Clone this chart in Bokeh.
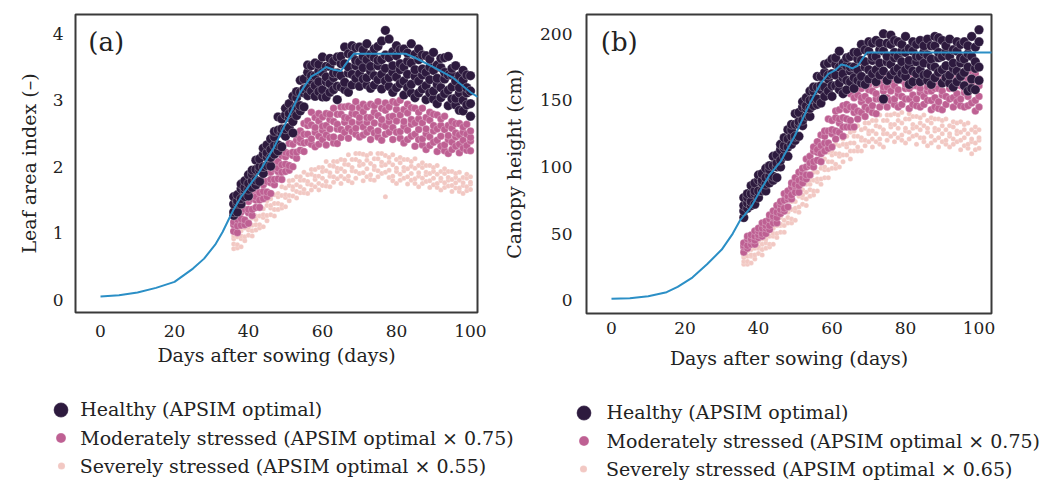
from bokeh.plotting import figure
from bokeh.models import Range1d, FixedTicker, Legend, LegendItem, Label, ColumnDataSource
from bokeh.layouts import row, column
from bokeh.embed import file_html
from bokeh.resources import INLINE

# ---------------- data ----------------
obs_days = [36, 37, 38, 39, 40, 41, 42, 43, 44, 45, 46, 47, 48, 49, 50, 51, 52, 53, 54, 55,
            56, 57, 58, 59, 60, 61, 62, 63, 64, 65, 66, 67, 68, 69, 70, 71, 72, 73, 74, 75,
            76, 77, 78, 79, 80, 81, 82, 83, 84, 85, 86, 87, 88, 89, 90, 91, 92, 93, 94, 95,
            96, 97, 98, 99, 100]

# (a) leaf area index (-), several plots per day
lai_healthy = [
    [1.27, 1.32, 1.44, 1.55], [1.32, 1.45, 1.49, 1.58], [1.44, 1.52, 1.67, 1.74], [1.55, 1.65, 1.69, 1.79],
    [1.56, 1.66, 1.75, 1.88], [1.69, 1.79, 1.89, 1.95], [1.73, 1.80, 1.96, 2.10], [1.78, 1.95, 2.00, 2.12],
    [1.90, 2.00, 2.19, 2.28], [2.02, 2.15, 2.21, 2.33], [2.01, 2.14, 2.26, 2.42], [2.19, 2.32, 2.45, 2.53],
    [2.24, 2.33, 2.55, 2.75], [2.30, 2.51, 2.57, 2.72], [2.46, 2.57, 2.78, 2.88], [2.59, 2.74, 2.80, 2.95],
    [2.51, 2.68, 2.85, 3.06], [2.77, 2.91, 3.04, 3.13], [2.84, 2.92, 3.12, 3.30], [2.90, 3.11, 3.17, 3.32],
    [3.07, 3.19, 3.42, 3.53], [3.14, 3.30, 3.37, 3.52], [3.06, 3.22, 3.37, 3.56], [3.13, 3.28, 3.44, 3.54],
    [3.05, 3.16, 3.42, 3.65], [3.05, 3.28, 3.35, 3.51], [3.12, 3.25, 3.51, 3.63], [3.16, 3.34, 3.41, 3.59],
    [3.01, 3.21, 3.41, 3.65], [3.20, 3.37, 3.55, 3.66], [3.16, 3.27, 3.55, 3.80], [3.12, 3.41, 3.50, 3.70],
    [3.23, 3.39, 3.68, 3.82], [3.33, 3.52, 3.60, 3.79], [3.21, 3.40, 3.58, 3.80], [3.32, 3.49, 3.66, 3.76],
    [3.23, 3.34, 3.61, 3.85], [3.18, 3.44, 3.51, 3.69], [3.23, 3.37, 3.64, 3.77], [3.31, 3.52, 3.60, 3.81],
    [3.17, 3.39, 3.61, 3.89], [3.29, 3.48, 3.68, 4.05], [3.21, 3.34, 3.64, 3.92], [3.12, 3.42, 3.52, 3.73],
    [3.19, 3.35, 3.67, 3.82], [3.25, 3.46, 3.55, 3.76], [3.08, 3.29, 3.50, 3.77], [3.19, 3.39, 3.59, 3.71],
    [3.11, 3.24, 3.56, 3.85], [3.04, 3.36, 3.46, 3.69], [3.11, 3.29, 3.61, 3.77], [3.17, 3.38, 3.47, 3.68],
    [3.01, 3.22, 3.42, 3.67], [3.11, 3.31, 3.50, 3.62], [3.02, 3.14, 3.45, 3.72], [2.95, 3.24, 3.33, 3.53],
    [3.04, 3.19, 3.49, 3.63], [3.10, 3.32, 3.42, 3.64], [2.92, 3.15, 3.38, 3.66], [3.02, 3.20, 3.38, 3.48],
    [2.93, 3.03, 3.29, 3.52], [2.85, 3.11, 3.19, 3.37], [2.84, 3.00, 3.30, 3.45], [2.93, 3.11, 3.19, 3.38],
    [2.76, 2.95, 3.14, 3.37],
]
lai_moderate = [
    [1.03, 1.13, 1.17, 1.27], [1.01, 1.11, 1.21, 1.33], [1.12, 1.22, 1.32, 1.39], [1.13, 1.20, 1.36, 1.50],
    [1.15, 1.31, 1.36, 1.48], [1.27, 1.36, 1.52, 1.60], [1.39, 1.50, 1.55, 1.66], [1.39, 1.50, 1.61, 1.75],
    [1.52, 1.63, 1.73, 1.79], [1.55, 1.62, 1.78, 1.92], [1.60, 1.76, 1.81, 1.92], [1.73, 1.81, 1.97, 2.05],
    [1.82, 1.93, 1.98, 2.08], [1.81, 1.92, 2.03, 2.17], [1.93, 2.04, 2.15, 2.22], [1.95, 2.02, 2.20, 2.35],
    [2.00, 2.17, 2.22, 2.34], [2.13, 2.22, 2.40, 2.48], [2.25, 2.37, 2.42, 2.54], [2.23, 2.36, 2.49, 2.65],
    [2.37, 2.49, 2.62, 2.69], [2.34, 2.42, 2.63, 2.82], [2.30, 2.52, 2.59, 2.74], [2.34, 2.46, 2.69, 2.80],
    [2.41, 2.55, 2.61, 2.75], [2.33, 2.48, 2.62, 2.80], [2.44, 2.57, 2.71, 2.79], [2.36, 2.45, 2.68, 2.88],
    [2.35, 2.57, 2.64, 2.79], [2.44, 2.56, 2.79, 2.90], [2.52, 2.67, 2.74, 2.90], [2.43, 2.58, 2.73, 2.91],
    [2.53, 2.67, 2.80, 2.89], [2.49, 2.58, 2.79, 2.98], [2.45, 2.67, 2.74, 2.89], [2.48, 2.60, 2.83, 2.94],
    [2.52, 2.67, 2.74, 2.90], [2.41, 2.57, 2.74, 2.94], [2.51, 2.66, 2.82, 2.92], [2.45, 2.54, 2.77, 2.98],
    [2.40, 2.64, 2.71, 2.88], [2.49, 2.61, 2.85, 2.96], [2.52, 2.68, 2.75, 2.90], [2.41, 2.59, 2.76, 2.98],
    [2.52, 2.69, 2.86, 2.96], [2.43, 2.53, 2.78, 3.00], [2.36, 2.61, 2.68, 2.86], [2.41, 2.55, 2.81, 2.94],
    [2.46, 2.64, 2.71, 2.89], [2.31, 2.49, 2.66, 2.88], [2.41, 2.56, 2.72, 2.82], [2.33, 2.42, 2.66, 2.88],
    [2.26, 2.50, 2.57, 2.74], [2.32, 2.45, 2.70, 2.82], [2.37, 2.54, 2.62, 2.79], [2.23, 2.40, 2.57, 2.78],
    [2.31, 2.46, 2.62, 2.72], [2.24, 2.33, 2.56, 2.76], [2.20, 2.41, 2.47, 2.62], [2.26, 2.37, 2.58, 2.68],
    [2.31, 2.45, 2.51, 2.65], [2.21, 2.34, 2.48, 2.65], [2.28, 2.40, 2.52, 2.60], [2.25, 2.32, 2.49, 2.64],
    [2.24, 2.39, 2.44, 2.54],
]
lai_severe = [
    [0.77, 0.84, 0.92, 0.96], [0.78, 0.83, 0.95, 1.05], [0.80, 0.92, 0.96, 1.04], [0.89, 0.95, 1.08, 1.14],
    [0.97, 1.05, 1.09, 1.17], [0.96, 1.04, 1.12, 1.23], [1.05, 1.13, 1.21, 1.26], [1.08, 1.13, 1.26, 1.38],
    [1.10, 1.24, 1.28, 1.37], [1.19, 1.27, 1.42, 1.49], [1.28, 1.38, 1.42, 1.52], [1.26, 1.36, 1.45, 1.58],
    [1.36, 1.45, 1.55, 1.60], [1.38, 1.43, 1.57, 1.70], [1.40, 1.54, 1.58, 1.68], [1.49, 1.57, 1.72, 1.79],
    [1.56, 1.66, 1.70, 1.80], [1.53, 1.63, 1.73, 1.85], [1.61, 1.70, 1.80, 1.85], [1.61, 1.66, 1.80, 1.92],
    [1.60, 1.74, 1.78, 1.88], [1.65, 1.73, 1.89, 1.96], [1.70, 1.81, 1.86, 1.96], [1.65, 1.75, 1.86, 1.99],
    [1.72, 1.83, 1.93, 1.99], [1.71, 1.78, 1.94, 2.08], [1.70, 1.86, 1.91, 2.02], [1.77, 1.85, 2.01, 2.08],
    [1.82, 1.93, 1.98, 2.08], [1.75, 1.86, 1.97, 2.11], [1.82, 1.93, 2.04, 2.10], [1.79, 1.86, 2.03, 2.18],
    [1.76, 1.94, 1.99, 2.11], [1.83, 1.93, 2.11, 2.20], [1.90, 2.02, 2.08, 2.20], [1.79, 1.91, 2.04, 2.19],
    [1.85, 1.97, 2.10, 2.17], [1.81, 1.88, 2.05, 2.20], [1.80, 1.96, 2.01, 2.12], [1.85, 1.94, 2.12, 2.20],
    [1.90, 2.02, 2.07, 2.20], [1.55, 1.92, 2.03, 2.17], [1.84, 1.95, 2.07, 2.14], [1.79, 1.86, 2.03, 2.18],
    [1.75, 1.93, 1.98, 2.11], [1.80, 1.89, 2.06, 2.14], [1.83, 1.94, 1.99, 2.11], [1.74, 1.85, 1.97, 2.11],
    [1.80, 1.90, 2.01, 2.08], [1.75, 1.82, 1.98, 2.12], [1.70, 1.86, 1.91, 2.02], [1.75, 1.83, 1.99, 2.06],
    [1.78, 1.88, 1.92, 2.02], [1.69, 1.79, 1.90, 2.02], [1.73, 1.83, 1.93, 1.99], [1.69, 1.75, 1.89, 2.02],
    [1.65, 1.79, 1.83, 1.93], [1.69, 1.76, 1.90, 1.97], [1.71, 1.80, 1.84, 1.93], [1.63, 1.72, 1.81, 1.93],
    [1.68, 1.76, 1.84, 1.90], [1.63, 1.68, 1.80, 1.92], [1.60, 1.72, 1.76, 1.84], [1.64, 1.70, 1.83, 1.89],
    [1.66, 1.74, 1.77, 1.85],
]

# (b) canopy height (cm)
height_healthy = [
    [62, 67, 71, 77], [69, 73, 77, 80], [71, 74, 80, 86], [72, 80, 82, 88], [77, 82, 90, 94],
    [82, 88, 90, 95], [82, 87, 92, 99], [88, 93, 98, 101], [90, 93, 101, 108], [92, 100, 103, 109],
    [100, 105, 113, 117], [108, 114, 116, 122], [108, 115, 121, 128], [117, 123, 128, 132], [120, 123, 132, 140],
    [123, 132, 134, 141], [131, 135, 145, 149], [138, 144, 146, 152], [138, 144, 150, 157], [146, 151, 157, 160],
    [147, 151, 160, 168], [148, 158, 161, 168], [153, 160, 171, 177], [157, 166, 169, 178], [153, 161, 170, 181],
    [161, 169, 177, 182], [158, 163, 175, 187], [155, 167, 170, 178], [158, 165, 176, 182], [164, 172, 175, 183],
    [159, 167, 175, 186], [165, 173, 181, 186], [163, 168, 180, 192], [162, 175, 179, 188], [166, 173, 187, 194],
    [170, 180, 183, 193], [164, 173, 183, 195], [169, 178, 188, 193], [151, 172, 187, 200], [165, 179, 183, 193],
    [169, 177, 192, 199], [172, 182, 186, 195], [166, 174, 183, 194], [170, 179, 187, 192], [168, 173, 186, 198],
    [162, 176, 180, 189], [164, 172, 187, 194], [170, 179, 183, 192], [164, 173, 183, 195], [169, 178, 186, 191],
    [165, 170, 184, 196], [162, 176, 181, 191], [167, 175, 191, 198], [171, 182, 186, 197], [163, 173, 183, 195],
    [167, 176, 186, 191], [163, 169, 183, 196], [160, 174, 178, 188], [164, 172, 187, 194], [168, 178, 182, 192],
    [161, 171, 181, 194], [157, 175, 185, 191], [159, 166, 183, 198], [158, 174, 179, 190], [165, 175, 194, 203],
]
height_moderate = [
    [36, 40, 41, 43], [39, 41, 46, 48], [42, 45, 46, 49], [42, 45, 48, 52], [47, 49, 52, 54],
    [48, 50, 54, 58], [50, 54, 56, 59], [53, 56, 61, 64], [58, 62, 63, 67], [58, 62, 66, 71],
    [65, 68, 72, 74], [67, 69, 75, 80], [70, 76, 78, 82], [76, 79, 85, 88], [81, 86, 87, 92],
    [81, 86, 90, 96], [88, 92, 96, 99], [91, 94, 100, 106], [94, 101, 103, 108], [100, 104, 112, 115],
    [105, 111, 113, 119], [104, 110, 116, 124], [112, 118, 123, 127], [114, 118, 127, 136], [115, 125, 128, 135],
    [121, 127, 137, 142], [126, 133, 136, 143], [123, 130, 137, 146], [130, 136, 143, 147], [130, 135, 145, 155],
    [130, 141, 145, 152], [136, 142, 154, 159], [141, 149, 152, 159], [138, 145, 153, 162], [143, 150, 158, 162],
    [141, 146, 157, 167], [140, 151, 155, 162], [145, 151, 163, 168], [149, 157, 160, 167], [145, 152, 160, 169],
    [150, 157, 164, 168], [147, 151, 161, 170], [145, 155, 158, 165], [147, 153, 165, 170], [151, 159, 162, 169],
    [144, 151, 159, 168], [147, 154, 161, 165], [146, 151, 161, 171], [145, 156, 159, 167], [147, 153, 164, 169],
    [150, 157, 160, 167], [143, 150, 157, 166], [145, 152, 159, 163], [144, 149, 159, 169], [143, 154, 157, 165],
    [147, 153, 165, 170], [151, 159, 162, 169], [145, 152, 159, 168], [149, 155, 162, 166], [146, 151, 161, 171],
    [145, 156, 159, 167], [146, 153, 166, 172], [148, 158, 162, 172], [142, 150, 159, 170], [145, 153, 161, 166],
]
height_severe = [
    [27, 29, 32, 34], [27, 29, 33, 37], [28, 33, 34, 38], [31, 34, 39, 42], [35, 39, 40, 44],
    [34, 38, 42, 46], [39, 43, 46, 48], [40, 42, 48, 53], [42, 48, 50, 54], [47, 50, 56, 59],
    [51, 56, 57, 62], [51, 56, 60, 66], [58, 62, 66, 68], [58, 61, 68, 74], [60, 67, 69, 74],
    [66, 70, 78, 81], [72, 77, 79, 83], [71, 76, 81, 87], [78, 83, 87, 90], [79, 82, 90, 96],
    [82, 89, 91, 96], [87, 91, 99, 103], [92, 98, 100, 106], [92, 98, 104, 111], [99, 104, 109, 112],
    [99, 102, 110, 117], [100, 108, 110, 116], [104, 109, 117, 121], [109, 115, 117, 123], [106, 112, 118, 126],
    [112, 118, 123, 127], [112, 115, 123, 131], [112, 120, 122, 128], [116, 120, 129, 133], [119, 125, 127, 133],
    [115, 121, 127, 135], [119, 125, 131, 135], [117, 121, 130, 139], [115, 125, 128, 135], [120, 125, 135, 139],
    [123, 130, 132, 139], [119, 125, 132, 140], [122, 129, 135, 139], [120, 124, 133, 141], [118, 127, 129, 136],
    [121, 126, 136, 140], [123, 129, 132, 138], [117, 124, 130, 138], [122, 128, 133, 137], [119, 122, 131, 139],
    [116, 126, 129, 135], [118, 123, 133, 137], [120, 127, 129, 136], [115, 122, 128, 136], [119, 125, 131, 135],
    [117, 120, 128, 136], [115, 123, 125, 131], [117, 121, 130, 134], [119, 125, 127, 133], [113, 120, 126, 134],
    [116, 122, 128, 132], [114, 117, 125, 133], [110, 119, 121, 128], [113, 118, 126, 130], [114, 120, 122, 128],
]

# APSIM simulated curves
apsim_days_a = [0, 5, 10, 15, 20, 25, 28, 31, 33, 35, 36, 38, 40, 43, 47, 50, 54, 57, 59, 61,
                63, 65, 67, 68.5, 75, 82.5, 85, 90, 95, 100, 102]
apsim_lai = [0.05, 0.07, 0.11, 0.18, 0.27, 0.47, 0.62, 0.83, 1.02, 1.25, 1.36, 1.55, 1.70, 1.93, 2.30,
             2.65, 3.12, 3.36, 3.42, 3.50, 3.46, 3.44, 3.60, 3.70, 3.70, 3.70, 3.64, 3.50, 3.35, 3.12, 3.05]
apsim_days_b = [0, 5, 10, 15, 18, 22, 26, 30, 33, 35, 38, 40, 43, 46, 50, 54, 57, 59, 61, 62.5,
                64, 65.5, 67, 69.5, 100, 104]
apsim_height = [1, 1.5, 3, 6, 10, 17, 27, 38, 50, 60, 70, 80, 94, 104, 124, 148, 163, 170, 173, 177,
                176, 174, 176, 186, 186, 186]

x_ticks = [0, 20, 40, 60, 80, 100]
lai_ticks = [0, 1, 2, 3, 4]
height_ticks = [0, 50, 100, 150, 200]

labels_a = ["Healthy (APSIM optimal)",
            "Moderately stressed (APSIM optimal \u00d7 0.75)",
            "Severely stressed (APSIM optimal \u00d7 0.55)"]
labels_b = ["Healthy (APSIM optimal)",
            "Moderately stressed (APSIM optimal \u00d7 0.75)",
            "Severely stressed (APSIM optimal \u00d7 0.65)"]

# ---------------- styling ----------------
FONT = "DejaVu Serif"
TXT = "#222222"
C_HEALTHY = "#2d1a3e"
C_MODERATE = "#be6093"
C_SEVERE = "#f2c8c3"
C_LINE = "#2b8fc6"
STYLES = [  # healthy, moderate, severe
    dict(size=9.5, fill_color=C_HEALTHY, line_color="white", line_width=0.5, line_alpha=0.55),
    dict(size=7.5, fill_color=C_MODERATE, line_color="white", line_width=0.4, line_alpha=0.6),
    dict(size=5, fill_color=C_SEVERE, line_color="white", line_width=0.3, line_alpha=0.6),
]


def flat(rows):
    xs, ys = [], []
    for d, r in zip(obs_days, rows):
        for v in r:
            xs.append(d)
            ys.append(v)
    return ColumnDataSource(dict(x=xs, y=ys))


def make_panel(cfg):
    p = figure(frame_width=cfg["fw"], frame_height=cfg["fh"],
               min_border_left=cfg["bl"], min_border_right=cfg["br"],
               min_border_top=cfg["bt"], min_border_bottom=cfg["bb"],
               x_range=Range1d(*cfg["xr"]), y_range=Range1d(*cfg["yr"]),
               output_backend="svg", toolbar_location=None)
    p.grid.visible = False
    p.outline_line_color = "#3a3a3a"
    p.outline_line_width = 2
    p.background_fill_color = "white"
    p.border_fill_color = "white"

    for rows, st in zip([cfg["sev"], cfg["mod"], cfg["hea"]], STYLES[::-1]):
        p.scatter("x", "y", source=flat(rows), **st)
    p.line(cfg["ld"], cfg["lv"], line_color=C_LINE, line_width=2)

    for ax in (p.xaxis[0], p.yaxis[0]):
        ax.axis_line_color = None
        ax.major_tick_line_color = None
        ax.minor_tick_line_color = None
        ax.major_tick_out = 0
        ax.major_tick_in = 0
        ax.major_label_text_font = FONT
        ax.major_label_text_font_size = "17px"
        ax.major_label_text_color = TXT
        ax.axis_label_text_font = FONT
        ax.axis_label_text_font_size = "19px"
        ax.axis_label_text_font_style = "normal"
        ax.axis_label_text_color = TXT
    p.xaxis.ticker = FixedTicker(ticks=x_ticks)
    p.yaxis.ticker = FixedTicker(ticks=cfg["yt"])
    p.xaxis.axis_label = "Days after sowing (days)"
    p.yaxis.axis_label = cfg["ylabel"]
    p.xaxis.major_label_standoff = cfg["xls"]
    p.xaxis.axis_label_standoff = cfg["xas"]
    p.yaxis.major_label_standoff = cfg["yls"]
    p.yaxis.axis_label_standoff = cfg["yas"]

    p.add_layout(Label(x=cfg["tag_xy"][0], y=cfg["tag_xy"][1], text=cfg["tag"],
                       text_font=FONT, text_font_size="26px", text_color=TXT,
                       text_baseline="middle", text_align="left"))
    return p


def make_legend(width, panels):
    lf = figure(frame_width=width, frame_height=108, min_border=0,
                x_range=Range1d(0, 1), y_range=Range1d(0, 1),
                x_axis_location=None, y_axis_location=None,
                output_backend="svg", toolbar_location=None)
    lf.grid.visible = False
    lf.outline_line_color = None
    lf.background_fill_color = "white"
    lf.border_fill_color = "white"
    gw = [37, 25, 18]
    gh = [37, 25, 23]
    for cfg in panels:
        series = [cfg["hea"], cfg["mod"], cfg["sev"]]
        for i, (rows, st, lab) in enumerate(zip(series, STYLES, cfg["labels"])):
            # same observations; they lie outside this strip's ranges, only the key shows
            rend = lf.scatter("x", "y", source=flat(rows), **st)
            leg = Legend(items=[LegendItem(label=lab, renderers=[rend])],
                         location=(cfg["lg_cx"] - gw[i] / 2, cfg["lg_vy"][i]),
                         glyph_width=gw[i], glyph_height=gh[i], label_height=gh[i],
                         label_standoff=int(round(cfg["lg_tx"] - gw[i] / 2)),
                         padding=0, margin=0, spacing=0,
                         border_line_color=None, background_fill_alpha=0,
                         label_text_font=FONT, label_text_font_size="19px",
                         label_text_color=TXT)
            lf.add_layout(leg)
    return lf


cfg_a = dict(
    fw=402, fh=298, bl=75, br=21, bt=14, bb=60,
    xr=(-6.76, 101.9), yr=(-0.19, 4.29),
    sev=lai_severe, mod=lai_moderate, hea=lai_healthy,
    ld=apsim_days_a, lv=apsim_lai, yt=lai_ticks,
    ylabel="Leaf area index (\u2013)",
    xls=12, xas=4, yls=12, yas=10,
    tag="(a)", tag_xy=(-3.3, 3.87),
    labels=labels_a, lg_cx=60.7, lg_tx=19.3,
    lg_vy=[52.5, 29.8, 2.8],
)
cfg_b = dict(
    fw=405, fh=299, bl=88, br=61, bt=11, bb=62,
    xr=(-6.8, 103.4), yr=(-10.0, 214.5),
    sev=height_severe, mod=height_moderate, hea=height_healthy,
    ld=apsim_days_b, lv=apsim_height, yt=height_ticks,
    ylabel="Canopy height (cm)",
    xls=8, xas=10, yls=14, yas=12,
    tag="(b)", tag_xy=(-2.9, 193.8),
    labels=labels_b, lg_cx=583.0, lg_tx=23.5,
    lg_vy=[49.5, 27.0, 0.0],
)

width_a = cfg_a["bl"] + cfg_a["fw"] + cfg_a["br"]
width_b = cfg_b["bl"] + cfg_b["fw"] + cfg_b["br"]
layout = column(row(make_panel(cfg_a), make_panel(cfg_b)),
                make_legend(width_a + width_b, [cfg_a, cfg_b]))
open("out.html", "w").write(file_html(layout, INLINE))
